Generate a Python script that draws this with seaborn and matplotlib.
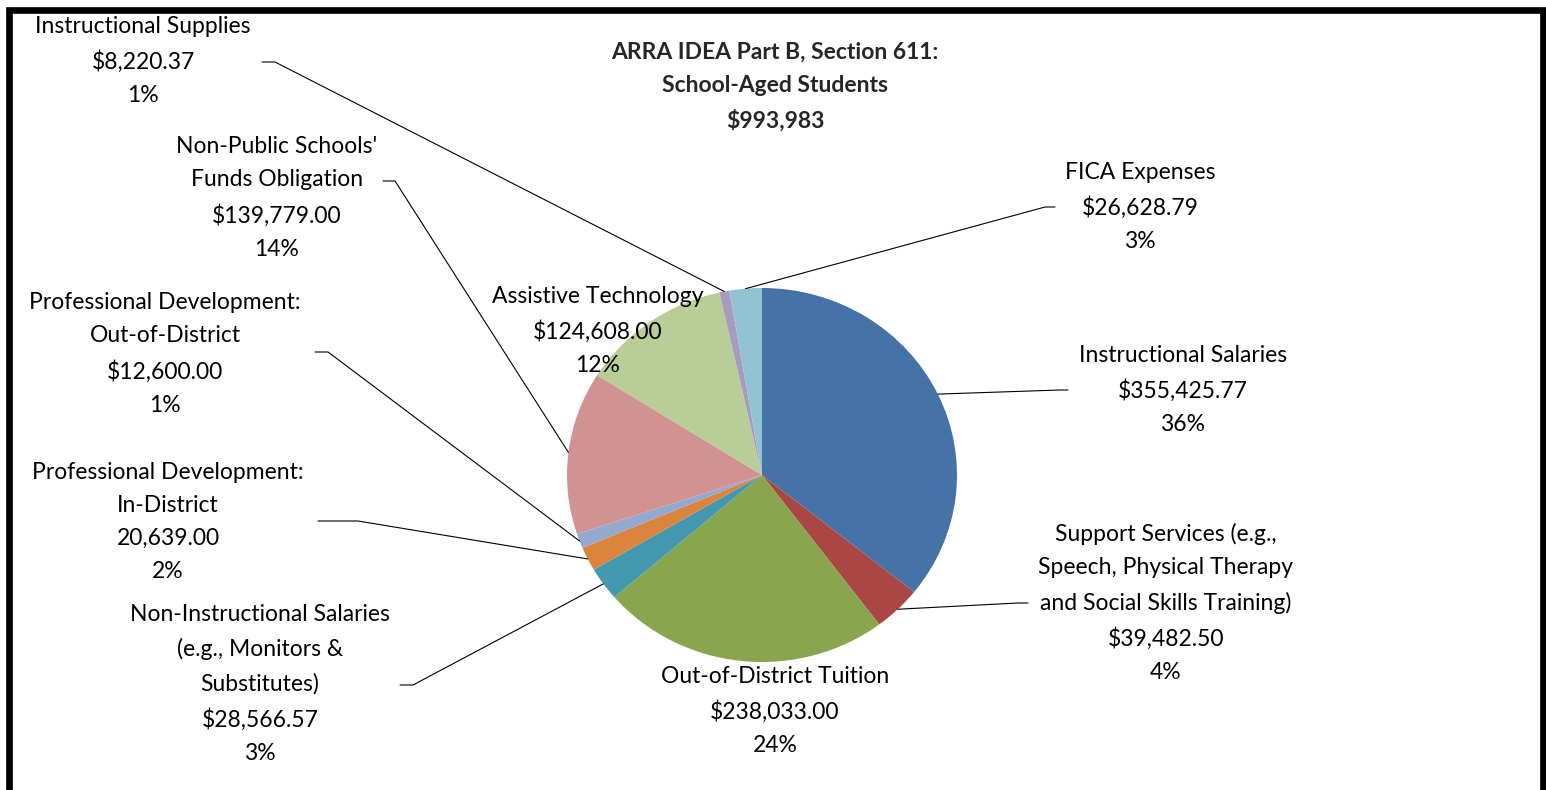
import numpy as np
import matplotlib
matplotlib.use("Agg")
import matplotlib.pyplot as plt
import seaborn as sns
from matplotlib.patches import Rectangle

sns.set_theme(style="white")
plt.rcParams['font.family'] = ['Lato', 'DejaVu Sans']

# datos del grafico
categories = [
    "Instructional Salaries",
    "Support Services (e.g.,\nSpeech, Physical Therapy\nand Social Skills Training)",
    "Out-of-District Tuition",
    "Non-Instructional Salaries\n(e.g., Monitors &\nSubstitutes)",
    "Professional Development:\nIn-District",
    "Professional Development:\nOut-of-District",
    "Non-Public Schools'\nFunds Obligation",
    "Assistive Technology",
    "Instructional Supplies",
    "FICA Expenses",
]
amounts = [355425.77, 39482.50, 238033.00, 28566.57, 20639.00,
           12600.00, 139779.00, 124608.00, 8220.37, 26628.79]
amount_labels = ["$355,425.77", "$39,482.50", "$238,033.00", "$28,566.57", "20,639.00",
                 "$12,600.00", "$139,779.00", "$124,608.00", "$8,220.37", "$26,628.79"]
pct_labels = ["36%", "4%", "24%", "3%", "2%", "1%", "14%", "12%", "1%", "3%"]
colors = ["#4572A7", "#AA4643", "#89A54E", "#4198AF", "#DB843D",
          "#93A9CF", "#D19392", "#B9CD96", "#A99BBD", "#92C3D4"]
title_lines = "ARRA IDEA Part B, Section 611:\nSchool-Aged Students\n$993,983"

W, H = 1546, 790
fig = plt.figure(figsize=(W / 100, H / 100), dpi=100)

# el pastel va en su propio eje (ligeramente eliptico como en el original)
cx, cy, rx, ry = 762, 475, 195, 187
ax_pie = fig.add_axes([(cx - rx) / W, (H - cy - ry) / H, 2 * rx / W, 2 * ry / H])
wedges, _ = ax_pie.pie(amounts, colors=colors, startangle=90, counterclock=False,
                       radius=1, frame=False, wedgeprops=dict(linewidth=0))
ax_pie.set_xlim(-1, 1)
ax_pie.set_ylim(-1, 1)
ax_pie.set_aspect('auto')
ax_pie.axis('off')

# eje de texto encima del pastel
ax = fig.add_axes([0, 0, 1, 1])
ax.set_xlim(0, W)
ax.set_ylim(0, H)
ax.axis('off')
ax.set_zorder(3)

# posicion de etiquetas (pixeles): centro x, centro y, guion (x0, x1, y) o None
layout = [
    (1183, 390, (1068, 1060, 390)),
    (1166, 603, (1028, 1018, 603)),
    (775, 711, None),
    (260, 684, (400, 413, 685)),
    (168, 522, (318, 358, 521)),
    (165, 354, (315, 328, 352)),
    (277, 198, (383, 395, 181)),
    (598, 331, None),
    (143, 61, (262, 275, 62)),
    (1140, 207, (1055, 1045, 207)),
]

for w, cat, amt, pct, (tx, ty, lead) in zip(wedges, categories, amount_labels, pct_labels, layout):
    ax.text(tx, H - ty, f"{cat}\n{amt}\n{pct}", ha='center', va='center',
            multialignment='center', fontsize=16.5, linespacing=1.72, color='black')
    if lead is not None:
        mid = np.deg2rad((w.theta1 + w.theta2) / 2)
        px, py = ax_pie.transData.transform((np.cos(mid), np.sin(mid)))
        x0, x1, ly = lead
        ax.plot([x0, x1, px], [H - ly, H - ly, py], color='black', lw=0.8)

ax.text(775, H - 87, title_lines, ha='center', va='center', multialignment='center',
        fontsize=16.5, fontweight='bold', linespacing=1.72)

# marco negro
fig.patches.append(Rectangle((9 / W, -0.05), (1542.5 - 9) / W, (H - 10) / H + 0.05,
                             transform=fig.transFigure, fill=False, edgecolor='black',
                             linewidth=4.8))

fig.savefig("out.png", dpi=100)
